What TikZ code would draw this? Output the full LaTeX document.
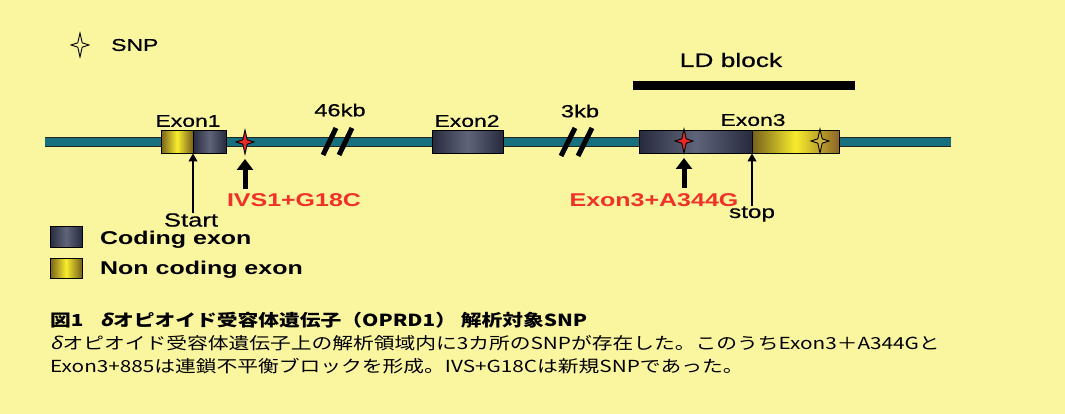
\documentclass[tikz,border=0pt]{standalone}
\usepackage{fontspec}
\setmainfont{Liberation Sans}
\newfontfamily\jpfont{Noto Sans CJK JP}[FakeStretch=1.25]
\newfontfamily\jpslant{Noto Sans CJK JP}[FakeStretch=1.25,FakeSlant=0.2]
\newfontfamily\lblfont{Liberation Sans}[FakeStretch=1.35,FakeBold=0.6]
\newfontfamily\boldfont{Liberation Sans Bold}[FakeStretch=1.35]
\usetikzlibrary{positioning,arrows.meta,calc}
\definecolor{bgyel}{RGB}{250,246,160}
\definecolor{dnateal}{RGB}{22,112,126}
\definecolor{cdark}{RGB}{40,43,62}
\definecolor{clight}{RGB}{95,100,122}
\definecolor{nyel}{RGB}{248,236,45}
\definecolor{nolive}{RGB}{118,96,28}
\definecolor{nbrown}{RGB}{140,100,40}
\definecolor{snpred}{RGB}{235,40,40}
\definecolor{snpyel}{RGB}{205,180,60}
\definecolor{lblred}{RGB}{240,50,40}
\newcommand{\dlt}{{\jpslant δ}}
\tikzset{
  dna/.style={draw=black!85,double=dnateal,double distance=8pt,line width=1pt},
  exbox/.style={draw=black,line width=0.9pt,minimum height=23pt,inner sep=0pt,outer sep=0pt},
  cex/.style={exbox,left color=cdark,right color=cdark,middle color=clight},
  ncex/.style={exbox,left color=nolive,right color=nolive,middle color=nyel},
  brk/.style={line width=5pt,black},
  snparr/.style={-{Triangle[width=16pt,length=11pt]},line width=5pt,black},
  thinarr/.style={-{Triangle[width=9pt,length=8pt]},line width=1.1pt,black},
  lbl/.style={font=\lblfont\fontsize{#1}{#1}\selectfont,inner sep=0pt},
  lbl/.default=16,
  redlbl/.style={font=\boldfont\fontsize{18.5}{20}\selectfont,text=lblred,inner sep=0pt},
  leglbl/.style={font=\boldfont\fontsize{18.5}{20}\selectfont,inner sep=0pt},
  caplbl/.style={font=\jpfont\fontsize{16.6}{22}\selectfont,inner sep=0pt,anchor=west},
  pics/snp/.style={code={\filldraw[fill=#1,draw=black,line width=0.9pt]
    (0,-12)--(2.2,-2.2)--(9,0)--(2.2,2.2)--(0,12)--(-2.2,2.2)--(-9,0)--(-2.2,-2.2)--cycle;}},
}
\begin{document}
\begin{tikzpicture}[x=1pt,y=-1pt]
  \useasboundingbox (0,0) rectangle (1065,414);
  \fill[bgyel] (0,0) rectangle (1065,414);
  % legend for SNP
  \pic at (80,45) {snp=bgyel};
  \node[lbl=17,anchor=west] (snpkey) at (111,45) {SNP};
  % LD block
  \node[fill=black,minimum width=222pt,minimum height=9pt,inner sep=0pt] (ldbar) at (744,86) {};
  \node[lbl=19.5] (ldlbl) at (731,60) {LD block};
  % gene line
  \coordinate (dnaL) at (45,142);
  \coordinate (dnaR) at (951,142);
  \draw[dna] (dnaL) -- (dnaR);
  % breaks
  \draw[brk] (323,155) -- (336,128);
  \draw[brk] (339,155) -- (352,128);
  \node[lbl=17.5] (kb46) at (340,110) {46kb};
  \draw[brk] (561,156) -- (575,128);
  \draw[brk] (578,156) -- (592,128);
  \node[lbl=17.5] (kb3) at (580,111) {3kb};
  % exons
  \node[ncex,minimum width=32pt] (e1a) at (177,142) {};
  \node[cex,minimum width=33pt,right=0pt of e1a] (e1b) {};
  \node[lbl=17] (e1lbl) at (188,121) {Exon1};
  \node[cex,minimum width=71pt] (e2) at (467.5,142) {};
  \node[lbl=17] (e2lbl) at (467,121) {Exon2};
  \node[cex,minimum width=113pt] (e3a) at (695.5,142) {};
  \node[exbox,minimum width=87pt,left color=nolive,right color=nbrown,middle color=nyel,right=0pt of e3a] (e3b) {};
  \node[lbl=17] (e3lbl) at (753,120) {Exon3};
  % SNPs
  \pic at (245,142) {snp=snpred};
  \pic at (684,141) {snp=snpred};
  \pic at (820,141) {snp=snpyel};
  \coordinate (snp1) at (245,142);
  \coordinate (snp2) at (684,142);
  \coordinate (a1) at (245,189);
  \coordinate (a2) at (684,188);
  \draw[snparr] (a1) -- ($(snp1)+(0,17)$);
  \draw[snparr] (a2) -- ($(snp2)+(0,16)$);
  \node[redlbl] (ivs) at (294,200) {IVS1+G18C};
  \node[redlbl] (a344) at (654,200) {Exon3+A344G};
  % start / stop
  \node[lbl=19] (start) at (191,220) {Start};
  \draw[thinarr] (start.north -| e1b.south west) -- (e1b.south west);
  \node[lbl=18] (stop) at (752,214) {stop};
  \draw[thinarr] (stop.north -| e3b.south west) -- (e3b.south west);
  % exon legend
  \node[cex,minimum width=32pt,minimum height=21pt] (legc) at (66,237) {};
  \node[leglbl,anchor=west] (legctxt) at (100,240) {Coding exon};
  \node[ncex,minimum width=32pt,minimum height=20pt] (legn) at (66,268) {};
  \node[leglbl,anchor=west] (legntxt) at (100,270) {Non coding exon};
  % caption
  \node[caplbl] (cap1) at (50,320) {\bfseries 図1\quad \dlt オピオイド受容体遺伝子（OPRD1） 解析対象SNP};
  \node[caplbl] (cap2) at (50,343) {\dlt オピオイド受容体遺伝子上の解析領域内に3カ所のSNPが存在した。このうちExon3＋A344Gと};
  \node[caplbl] (cap3) at (50,366) {Exon3+885は連鎖不平衡ブロックを形成。IVS+G18Cは新規SNPであった。};
\end{tikzpicture}
\end{document}
